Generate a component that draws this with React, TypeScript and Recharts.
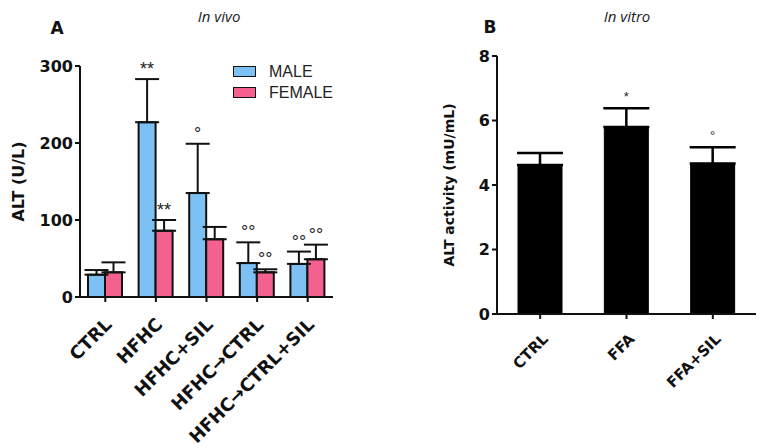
import React from 'react';
import { BarChart, Bar, XAxis, YAxis, ErrorBar, LabelList } from 'recharts';

// Panel A - in vivo ALT (U/L)
const groupsA = ['CTRL', 'HFHC', 'HFHC+SIL', 'HFHC\u2192CTRL', 'HFHC\u2192CTRL+SIL'];
const maleMean = [29, 227, 135, 44, 43];
const maleSd = [6, 56, 64, 27, 16];
const femaleMean = [32, 86, 75, 32, 49];
const femaleSd = [13, 14, 16, 4, 19];
const maleMarks = ['', '**', '\u00b0', '\u00b0\u00b0', '\u00b0\u00b0'];
const femaleMarks = ['', '**', '', '\u00b0\u00b0', '\u00b0\u00b0'];
const ticksA = [0, 100, 200, 300];

// Panel B - in vitro ALT activity (mU/mL)
const groupsB = ['CTRL', 'FFA', 'FFA+SIL'];
const activityMean = [4.62, 5.8, 4.67];
const activitySd = [0.37, 0.58, 0.5];
const activityMarks = ['', '*', '\u00b0'];
const ticksB = [0, 2, 4, 6, 8];

const dataA = groupsA.map((g, i) => ({
  name: g,
  male: maleMean[i],
  maleErr: [0, maleSd[i]],
  maleMark: maleMarks[i],
  female: femaleMean[i],
  femaleErr: [0, femaleSd[i]],
  femaleMark: femaleMarks[i],
}));

const dataB = groupsB.map((g, i) => ({
  name: g,
  value: activityMean[i],
  err: [0, activitySd[i]],
  mark: activityMarks[i],
}));

const BOLD = "'DejaVu Sans', sans-serif";
const SANS = "'Liberation Sans', Arial, sans-serif";

// places the significance mark above the top of the error bar
const markRenderer = (means: number[], sd: number[], fontSize: number, gap: number) => (props: any) => {
  const { x, y, width, height, value, index } = props;
  if (!value) return null;
  const ppu = means[index] ? Number(height) / means[index] : 0;
  const top = Number(y) - sd[index] * ppu;
  return (
    <text x={Number(x) + Number(width) / 2} y={top - gap} textAnchor="middle" fontSize={fontSize} fontFamily={SANS} fill="#222">
      {value}
    </text>
  );
};

const XTick = ({ x, y, payload, fontSize, dx, dy }: any) => (
  <text
    x={x + dx}
    y={y + dy}
    textAnchor="end"
    dominantBaseline="hanging"
    fontSize={fontSize}
    fontWeight="bold"
    fontFamily={BOLD}
    fill="#111"
    transform={`rotate(-45, ${x + dx}, ${y + dy})`}
  >
    {payload.value}
  </text>
);

const legendItems = [
  { label: 'MALE', color: '#7dc0f4' },
  { label: 'FEMALE', color: '#f4618f' },
];

const axisLine = { stroke: '#111', strokeWidth: 2 };
const tickLine = { stroke: '#111', strokeWidth: 2 };

export default function App() {
  return (
    <div style={{ position: 'absolute', left: 0, top: 0, width: 766, height: 448, background: '#fff', overflow: 'hidden' }}>
      <div style={{ position: 'absolute', left: 0, top: 0 }}>
        <BarChart width={380} height={448} data={dataA} margin={{ top: 66, right: 47, bottom: 121, left: 0 }} barGap={0} barSize={17}>
          <text x={219} y={22} textAnchor="middle" fontSize={15} fontStyle="italic" fontFamily="'Open Sans', sans-serif" fill="#222">In vivo</text>
          <text x={57} y={34} textAnchor="middle" fontSize={17} fontWeight="bold" fontFamily={BOLD} fill="#111">A</text>
          <XAxis dataKey="name" height={30} interval={0} axisLine={axisLine} tickLine={tickLine} tickSize={5} tick={<XTick fontSize={18} dx={-2} dy={12} />} />
          <YAxis
            width={80}
            domain={[0, 300]}
            ticks={ticksA}
            axisLine={axisLine}
            tickLine={tickLine}
            tickSize={5}
            tick={{ fontSize: 16, fontWeight: 'bold', fontFamily: BOLD, fill: '#111' }}
            label={{ value: 'ALT (U/L)', angle: -90, position: 'center', dx: -22, style: { fontSize: 16, fontWeight: 'bold', fontFamily: BOLD, fill: '#111' } }}
          />
          <Bar dataKey="male" name="MALE" fill="#7dc0f4" stroke="#111" strokeWidth={2} isAnimationActive={false}>
            <ErrorBar dataKey="maleErr" direction="y" width={12} stroke="#111" strokeWidth={2} />
            <LabelList dataKey="maleMark" content={markRenderer(maleMean, maleSd, 18, 4)} />
          </Bar>
          <Bar dataKey="female" name="FEMALE" fill="#f4618f" stroke="#111" strokeWidth={2} isAnimationActive={false}>
            <ErrorBar dataKey="femaleErr" direction="y" width={12} stroke="#111" strokeWidth={2} />
            <LabelList dataKey="femaleMark" content={markRenderer(femaleMean, femaleSd, 18, 4)} />
          </Bar>
        </BarChart>
        <div style={{ position: 'absolute', left: 233, top: 61, fontFamily: SANS, fontSize: 16, color: '#222' }}>
          {legendItems.map((it) => (
            <div key={it.label} style={{ display: 'flex', alignItems: 'center', height: 21 }}>
              <span style={{ width: 21, height: 9, background: it.color, border: '1.5px solid #111', marginRight: 13 }} />
              {it.label}
            </div>
          ))}
        </div>
      </div>
      <div style={{ position: 'absolute', left: 380, top: 0 }}>
        <BarChart width={386} height={448} data={dataB} margin={{ top: 56, right: 10, bottom: 104, left: 0 }} barSize={44}>
          <text x={247} y={22} textAnchor="middle" fontSize={15} fontStyle="italic" fontFamily="'Open Sans', sans-serif" fill="#222">In vitro</text>
          <text x={110} y={33} textAnchor="middle" fontSize={17} fontWeight="bold" fontFamily={BOLD} fill="#111">B</text>
          <XAxis dataKey="name" height={30} interval={0} axisLine={axisLine} tickLine={tickLine} tickSize={5} tick={<XTick fontSize={15} dx={1} dy={11} />} />
          <YAxis
            width={117}
            domain={[0, 8]}
            ticks={ticksB}
            axisLine={axisLine}
            tickLine={tickLine}
            tickSize={5}
            tick={{ fontSize: 16, fontWeight: 'bold', fontFamily: BOLD, fill: '#111' }}
            label={{ value: 'ALT activity (mU/mL)', angle: -90, position: 'center', dx: 11, style: { fontSize: 14, fontWeight: 'bold', fontFamily: BOLD, fill: '#111' } }}
          />
          <Bar dataKey="value" fill="#000" stroke="#000" isAnimationActive={false}>
            <ErrorBar dataKey="err" direction="y" width={23} stroke="#000" strokeWidth={2.5} />
            <LabelList dataKey="mark" content={markRenderer(activityMean, activitySd, 13, 7)} />
          </Bar>
        </BarChart>
      </div>
    </div>
  );
}
